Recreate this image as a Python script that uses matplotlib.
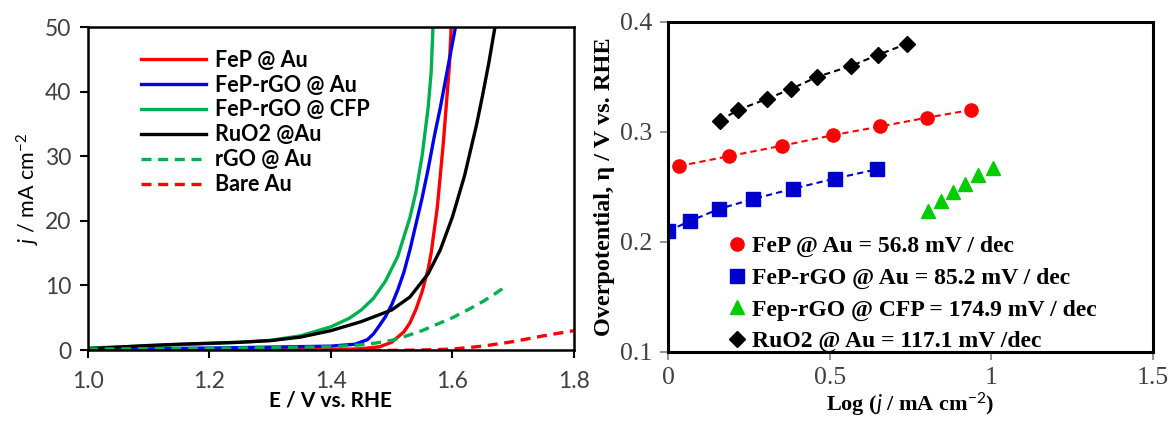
import matplotlib
matplotlib.use('Agg')
import matplotlib.pyplot as plt
import numpy as np

plt.rcParams['mathtext.fontset'] = 'custom'
plt.rcParams['mathtext.it'] = 'Lato:italic'
plt.rcParams['mathtext.rm'] = 'Lato'
plt.rcParams['mathtext.bf'] = 'Liberation Serif:bold'

# LSV curves, E / V vs. RHE and j / mA cm-2
E_fep_au = [1.0, 1.2, 1.4, 1.45, 1.48, 1.50, 1.52, 1.53, 1.54, 1.55, 1.56, 1.565, 1.57, 1.575, 1.58, 1.585, 1.59, 1.595, 1.598]
j_fep_au = [0.0, 0.02, 0.05, 0.2, 0.5, 1.2, 2.8, 4.2, 6.3, 9.0, 12.5, 15.0, 18.5, 22.0, 27.0, 32.0, 38.0, 44.0, 50.0]

E_rgo_au = [1.0, 1.2, 1.4, 1.44, 1.46, 1.47, 1.48, 1.49, 1.50, 1.51, 1.52, 1.53, 1.54, 1.55, 1.56, 1.57, 1.58, 1.59, 1.60, 1.605]
j_rgo_au = [0.1, 0.3, 0.6, 0.9, 1.6, 2.5, 3.8, 5.2, 7.0, 9.3, 12.0, 15.5, 19.5, 23.5, 28.0, 33.0, 37.5, 42.5, 47.5, 50.0]

E_rgo_cfp = [1.0, 1.1, 1.2, 1.25, 1.3, 1.35, 1.4, 1.43, 1.45, 1.47, 1.49, 1.51, 1.53, 1.54, 1.55, 1.56, 1.565, 1.568]
j_rgo_cfp = [0.3, 0.65, 1.0, 1.2, 1.5, 2.2, 3.6, 4.9, 6.2, 8.0, 10.7, 14.5, 20.5, 24.5, 30.0, 37.5, 43.0, 50.0]

E_ruo2 = [1.0, 1.05, 1.1, 1.15, 1.2, 1.25, 1.3, 1.35, 1.4, 1.45, 1.5, 1.53, 1.56, 1.58, 1.6, 1.62, 1.64, 1.65, 1.66, 1.67]
j_ruo2 = [0.2, 0.45, 0.7, 0.9, 1.05, 1.2, 1.45, 2.0, 3.0, 4.4, 6.2, 8.2, 11.8, 15.5, 20.6, 27.0, 35.0, 39.6, 44.5, 50.0]

E_rgo = [1.0, 1.2, 1.4, 1.45, 1.475, 1.5, 1.525, 1.55, 1.575, 1.6, 1.625, 1.65, 1.67, 1.69]
j_rgo = [0.15, 0.25, 0.5, 0.8, 1.1, 1.5, 2.2, 3.0, 4.0, 5.0, 6.2, 7.5, 8.7, 10.0]

E_bare = [1.0, 1.3, 1.5, 1.55, 1.6, 1.65, 1.7, 1.75, 1.8]
j_bare = [-0.1, -0.1, -0.05, 0.0, 0.15, 0.6, 1.3, 2.2, 3.0]

# Tafel data, log(j) and overpotential
logj_fep = [0.034, 0.189, 0.353, 0.509, 0.657, 0.801, 0.937]
eta_fep = [0.269, 0.278, 0.2875, 0.297, 0.305, 0.313, 0.320]
logj_rgo = [0.001, 0.068, 0.158, 0.263, 0.388, 0.516, 0.645]
eta_rgo = [0.210, 0.219, 0.230, 0.239, 0.2485, 0.2576, 0.266]
logj_cfp = [0.803, 0.844, 0.883, 0.920, 0.960, 1.005]
eta_cfp = [0.2285, 0.237, 0.245, 0.2525, 0.2606, 0.267]
logj_ruo2 = [0.160, 0.216, 0.306, 0.380, 0.461, 0.566, 0.649, 0.738]
eta_ruo2 = [0.310, 0.320, 0.330, 0.339, 0.350, 0.360, 0.370, 0.380]

fig = plt.figure(figsize=(11.71, 4.21), dpi=100)
ax1 = fig.add_axes([0.0751, 0.1686, 0.415, 0.767])
ax2 = fig.add_axes([0.5704, 0.1639, 0.4142, 0.784])

#left panel: polarization curves
lw = 2.4
ax1.plot(E_fep_au, j_fep_au, color='#ff0000', lw=lw, label='FeP @ Au')
ax1.plot(E_rgo_au, j_rgo_au, color='#0000ee', lw=lw, label='FeP-rGO @ Au')
ax1.plot(E_rgo_cfp, j_rgo_cfp, color='#00b050', lw=lw, label='FeP-rGO @ CFP')
ax1.plot(E_ruo2, j_ruo2, color='black', lw=lw, label='RuO2 @Au')
ax1.plot(E_rgo, j_rgo, color='#00b050', lw=lw, ls=(0, (3, 2)), label='rGO @ Au')
ax1.plot(E_bare, j_bare, color='#ff0000', lw=lw, ls=(0, (3, 2)), label='Bare Au')

ax1.set_xlim(1.0, 1.8)
ax1.set_ylim(0, 50)
ax1.set_xticks([1.0, 1.2, 1.4, 1.6, 1.8])
ax1.set_xticklabels(['1.0', '1.2', '1.4', '1.6', '1.8'])
ax1.set_yticks([0, 10, 20, 30, 40, 50])
for s in ax1.spines.values():
    s.set_linewidth(1.8)
ax1.tick_params(direction='out', length=6, width=1.5, labelsize=16.5, labelcolor='#404040', pad=6)
ax1.tick_params(axis='x', pad=9)
for t in ax1.get_xticklabels() + ax1.get_yticklabels():
    t.set_family('Lato')
ax1.set_xlabel('E / V vs. RHE', fontsize=15, fontweight='bold', family='Lato', labelpad=-1)
ax1.set_ylabel(r'$j$ / mA cm$^{-2}$', fontsize=15.5, family='Lato', labelpad=2)
leg1 = ax1.legend(loc='upper left', bbox_to_anchor=(0.07, 0.99), frameon=False,
                  handlelength=3.0, handletextpad=0.4, labelspacing=0.18,
                  prop={'family': 'Lato', 'weight': 'bold', 'size': 15.5})

#right panel: Tafel plots
ms = 9.5
ax2.plot(logj_fep, eta_fep, ls=(0, (3, 2)), color='#ff0000', lw=1.5, marker='o', ms=ms,
         label='FeP @ Au = 56.8 mV / dec')
ax2.plot(logj_rgo, eta_rgo, ls=(0, (3, 2)), color='#0000cc', lw=1.5, marker='s', ms=ms,
         label='FeP-rGO @ Au = 85.2 mV / dec')
ax2.plot(logj_cfp, eta_cfp, ls='none', color='#00cc00', marker='^', ms=ms + 1,
         label='Fep-rGO @ CFP = 174.9 mV / dec')
ax2.plot(logj_ruo2, eta_ruo2, ls=(0, (3, 2)), color='black', lw=1.5, marker='D', ms=ms - 1.5,
         label='RuO2 @ Au = 117.1 mV /dec')

ax2.set_xlim(0, 1.5)
ax2.set_ylim(0.1, 0.4)
ax2.set_xticks([0, 0.5, 1, 1.5])
ax2.set_xticklabels(['0', '0.5', '1', '1.5'])
ax2.set_yticks([0.1, 0.2, 0.3, 0.4])
for s in ax2.spines.values():
    s.set_linewidth(2.2)
ax2.tick_params(direction='out', length=6, width=1.2, color='#808080', labelsize=18.5,
                labelcolor='#404040', pad=5)
ax2.tick_params(axis='x', pad=5)
for t in ax2.get_xticklabels() + ax2.get_yticklabels():
    t.set_family('Liberation Serif')
ax2.set_xlabel(r'Log ($\mathbf{\mathit{j}}$ / mA cm$^{-2}$)', fontsize=16, fontweight='bold',
               family='Liberation Serif', labelpad=1)
ax2.set_ylabel('Overpotential, η / V vs. RHE', fontsize=17.5, fontweight='bold',
               family='Liberation Serif', labelpad=4)
leg2 = ax2.legend(loc='lower left', bbox_to_anchor=(0.085, -0.065), frameon=False,
                  handlelength=0.6, handletextpad=0.3, labelspacing=0.42,
                  prop={'family': 'Liberation Serif', 'weight': 'bold', 'size': 17})
for h in leg2.legend_handles:
    h.set_linestyle('none')

fig.savefig('out.png', dpi=100)
